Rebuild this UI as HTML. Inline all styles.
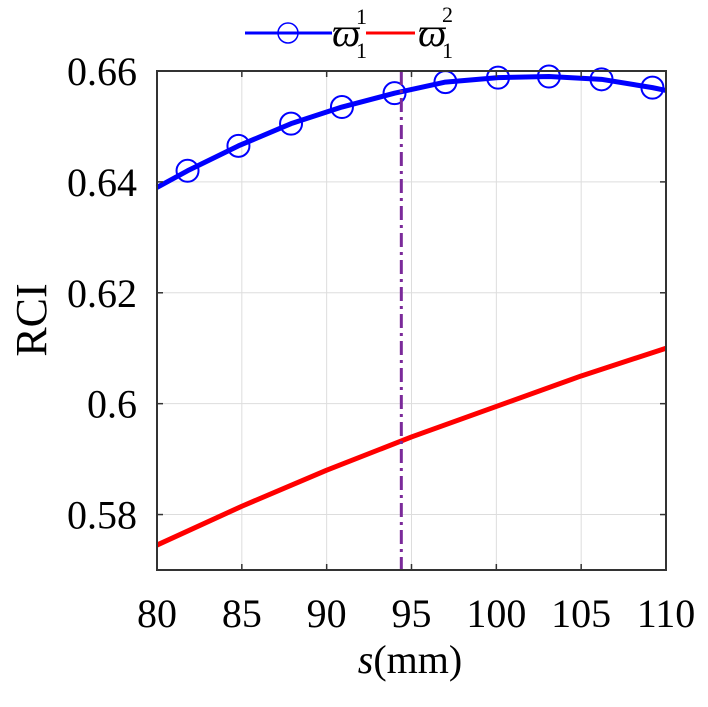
<!DOCTYPE html>
<html><head><meta charset="utf-8"><style>
body{margin:0;background:#fff}
svg{font-family:"Liberation Serif",serif}
</style></head><body>
<svg width="708" height="702" viewBox="0 0 708 702">
<g id="grid"></g>
<g id="marks"></g>
<g id="axes"></g>
<g>
 <line x1="245" y1="33" x2="332" y2="33" stroke="#0000ff" stroke-width="3"/>
 <circle cx="288" cy="33" r="10" fill="none" stroke="#0000ff" stroke-width="1.5"/>
 <text x="332" y="46" font-size="40" font-style="italic">ϖ</text>
 <text x="356" y="58" font-size="22">1</text><text x="356" y="24" font-size="22">1</text>
 <line x1="366" y1="33" x2="415" y2="33" stroke="#ff0000" stroke-width="3"/>
 <text x="418" y="46" font-size="40" font-style="italic">ϖ</text>
 <text x="442" y="58" font-size="22">1</text><text x="442" y="22" font-size="22">2</text>
</g>
<text transform="translate(46,320) rotate(-90)" text-anchor="middle" font-size="44">RCI</text>
<text x="410" y="673" text-anchor="middle" font-size="40"><tspan font-style="italic">s</tspan>(mm)</text>
</svg>
<script>
const xTicks=[80,85,90,95,100,105,110];
const yTicks=[0.58,0.6,0.62,0.64,0.66];
const yTickLabels=["0.58","0.6","0.62","0.64","0.66"];
const blueX=[80,81.8,84.8,87.9,90.9,94.0,97.0,100.1,103.1,106.2,109.2,110];
const blueY=[0.639,0.642,0.6465,0.6505,0.6535,0.656,0.658,0.6588,0.659,0.6585,0.657,0.6565];
const markerX=[81.8,84.8,87.9,90.9,94.0,97.0,100.1,103.1,106.2,109.2];
const markerY=[0.642,0.6465,0.6505,0.6535,0.656,0.658,0.6588,0.659,0.6585,0.657];
const redX=[80,85,90,95,100,105,110];
const redY=[0.5745,0.5815,0.588,0.594,0.5995,0.605,0.610];
const vlineX=94.4;
const L=157,R=666,T=71,B=570;
const sx=v=>L+(v-80)/30*(R-L);
const sy=v=>B-(v-0.57)/0.09*(B-T);
const NS="http://www.w3.org/2000/svg";
function mk(tag,attrs,parent,txt){const e=document.createElementNS(NS,tag);for(const k in attrs)e.setAttribute(k,attrs[k]);if(txt!==undefined)e.textContent=txt;document.getElementById(parent).appendChild(e);return e;}
xTicks.forEach(v=>{
 const g=mk('line',{x1:sx(v),x2:sx(v),y1:T,y2:B,stroke:'#ddd','stroke-width':1},'grid');
 
 
 mk('line',{x1:sx(v),x2:sx(v),y1:B,y2:B-6,stroke:'#333','stroke-width':1.5},'axes');
 mk('line',{x1:sx(v),x2:sx(v),y1:T,y2:T+6,stroke:'#333','stroke-width':1.5},'axes');
 const t=mk('text',{x:sx(v),y:B+57,'text-anchor':'middle','font-size':40},'axes',String(v));
 
 
});
yTicks.forEach((v,i)=>{
 const g=mk('line',{x1:L,x2:R,y1:sy(v),y2:sy(v),stroke:'#ddd','stroke-width':1},'grid');
 
 
 mk('line',{x1:L,x2:L+6,y1:sy(v),y2:sy(v),stroke:'#333','stroke-width':1.5},'axes');
 mk('line',{x1:R,x2:R-6,y1:sy(v),y2:sy(v),stroke:'#333','stroke-width':1.5},'axes');
 const t=mk('text',{x:L-20,y:sy(v)+14,'text-anchor':'end','font-size':40},'axes',yTickLabels[i]);
 
 
});
const box=mk('rect',{x:L,y:T,width:R-L,height:B-T,fill:'none',stroke:'#333','stroke-width':2},'axes');


const red=mk('polyline',{points:redX.map((x,i)=>sx(x)+','+sy(redY[i])).join(' '),fill:'none',stroke:'#ff0000','stroke-width':5,'stroke-linejoin':'round'},'marks');


const blue=mk('polyline',{points:blueX.map((x,i)=>sx(x)+','+sy(blueY[i])).join(' '),fill:'none',stroke:'#0000ff','stroke-width':5,'stroke-linejoin':'round'},'marks');


markerX.forEach((x,i)=>{
 const c=mk('circle',{cx:sx(x),cy:sy(markerY[i]),r:11,fill:'none',stroke:'#0000ff','stroke-width':2},'marks');
 
 
});
const vl=mk('line',{x1:sx(vlineX),x2:sx(vlineX),y1:T,y2:B,stroke:'#7b2a9a','stroke-width':3,'stroke-dasharray':'14 5 3 5'},'marks');


</script>
</body></html>
